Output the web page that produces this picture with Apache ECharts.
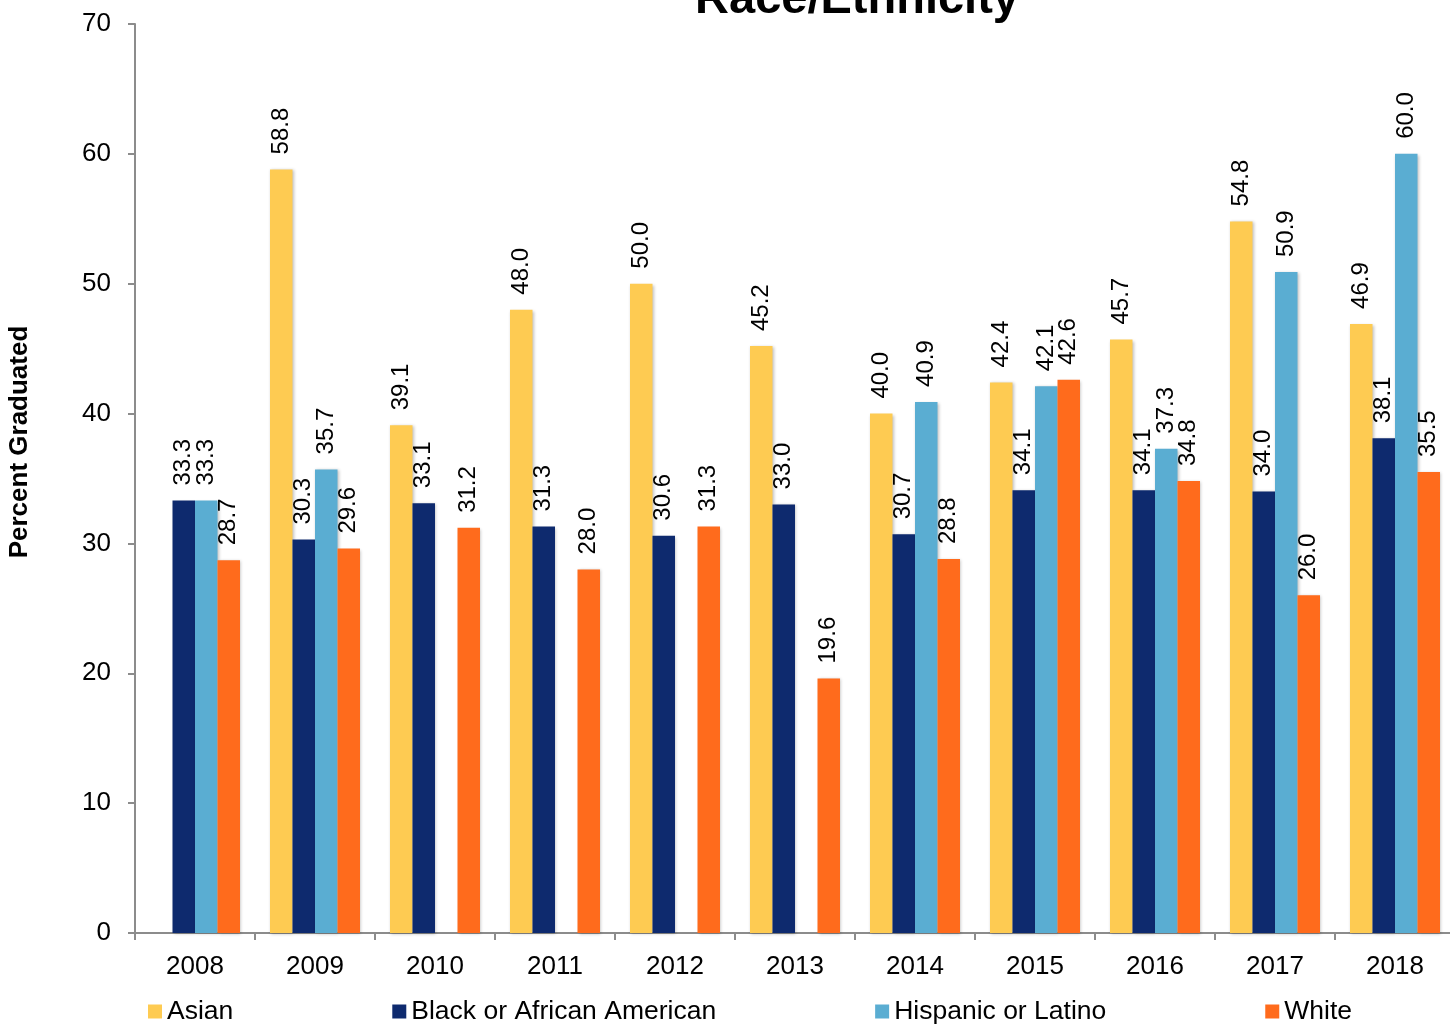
<!DOCTYPE html>
<html>
<head>
<meta charset="utf-8">
<script src="https://cdn.jsdelivr.net/npm/echarts@6/dist/echarts.min.js"></script>
<style>
  html, body { margin: 0; padding: 0; background: #fff; }
  #main { width: 1450px; height: 1024px; }
</style>
</head>
<body>
<div id="main"></div>
<script>
var myChart = echarts.init(document.getElementById('main'));

// 年份
var years = ['2008', '2009', '2010', '2011', '2012', '2013', '2014', '2015', '2016', '2017', '2018'];
var seriesNames = ['Asian', 'Black or African American', 'Hispanic or Latino', 'White'];
var asian = [null, 58.8, 39.1, 48.0, 50.0, 45.2, 40.0, 42.4, 45.7, 54.8, 46.9];
var black = [33.3, 30.3, 33.1, 31.3, 30.6, 33.0, 30.7, 34.1, 34.1, 34.0, 38.1];
var hispanic = [33.3, 35.7, null, null, null, null, 40.9, 42.1, 37.3, 50.9, 60.0];
var white = [28.7, 29.6, 31.2, 28.0, 31.3, 19.6, 28.8, 42.6, 34.8, 26.0, 35.5];
var colors = ['#FECB52', '#0E2A6E', '#5AADD2', '#FF6B1C'];

const font = 'Arial, "Liberation Sans", sans-serif';

function makeSeries(name, data, color) {
  return {
    name: name,
    type: 'bar',
    data: data,
    barGap: '0%',
    barCategoryGap: '25%',
    itemStyle: {
      color: color,
      shadowBlur: 3,
      shadowColor: 'rgba(0,0,0,0.25)',
      shadowOffsetX: 1,
      shadowOffsetY: 1
    },
    label: {
      show: true,
      position: 'top',
      rotate: 90,
      align: 'left',
      verticalAlign: 'middle',
      distance: 15,
      color: '#000',
      fontSize: 24,
      fontFamily: font,
      formatter: function (p) {
        return p.value == null ? '' : Number(p.value).toFixed(1);
      }
    }
  };
}

const option = {
  animation: false,
  color: colors,
  title: {
    text: 'Race/Ethnicity',
    left: 852,
    textAlign: 'center',
    top: -28,
    textStyle: {
      fontSize: 47,
      fontWeight: 'bold',
      fontFamily: font,
      color: '#000'
    }
  },
  graphic: [{
    type: 'text',
    x: 20,
    y: 442,
    rotation: Math.PI / 2,
    style: {
      text: 'Percent Graduated',
      font: 'bold 26px ' + font,
      fill: '#000',
      align: 'center',
      verticalAlign: 'middle'
    }
  }],
  legend: {
    left: 143,
    top: 993,
    icon: 'rect',
    itemWidth: 14,
    itemHeight: 14,
    itemGap: 159,
    textStyle: {
      fontSize: 26.5,
      fontFamily: font,
      color: '#000'
    },
    data: seriesNames
  },
  grid: {
    left: 135,
    right: -5,
    top: 24,
    bottom: 91,
    containLabel: false,
    outerBoundsMode: 'none'
  },
  xAxis: {
    type: 'category',
    data: years,
    axisLine: { lineStyle: { color: '#8c8c8c', width: 2 } },
    axisTick: { show: true, length: 7, lineStyle: { color: '#8c8c8c', width: 2 } },
    axisLabel: {
      fontSize: 26,
      fontFamily: font,
      color: '#000',
      margin: 21
    }
  },
  yAxis: {
    type: 'value',
    min: 0,
    max: 70,
    interval: 10,
    axisLine: { show: true, lineStyle: { color: '#8c8c8c', width: 2 } },
    axisTick: { show: true, length: 7, lineStyle: { color: '#8c8c8c', width: 2 } },
    splitLine: { show: false },
    axisLabel: {
      fontSize: 26,
      fontFamily: font,
      color: '#000',
      margin: 24
    }
  },
  series: [
    makeSeries(seriesNames[0], asian, colors[0]),
    makeSeries(seriesNames[1], black, colors[1]),
    makeSeries(seriesNames[2], hispanic, colors[2]),
    makeSeries(seriesNames[3], white, colors[3])
  ]
};
myChart.setOption(option);
</script>
</body>
</html>
